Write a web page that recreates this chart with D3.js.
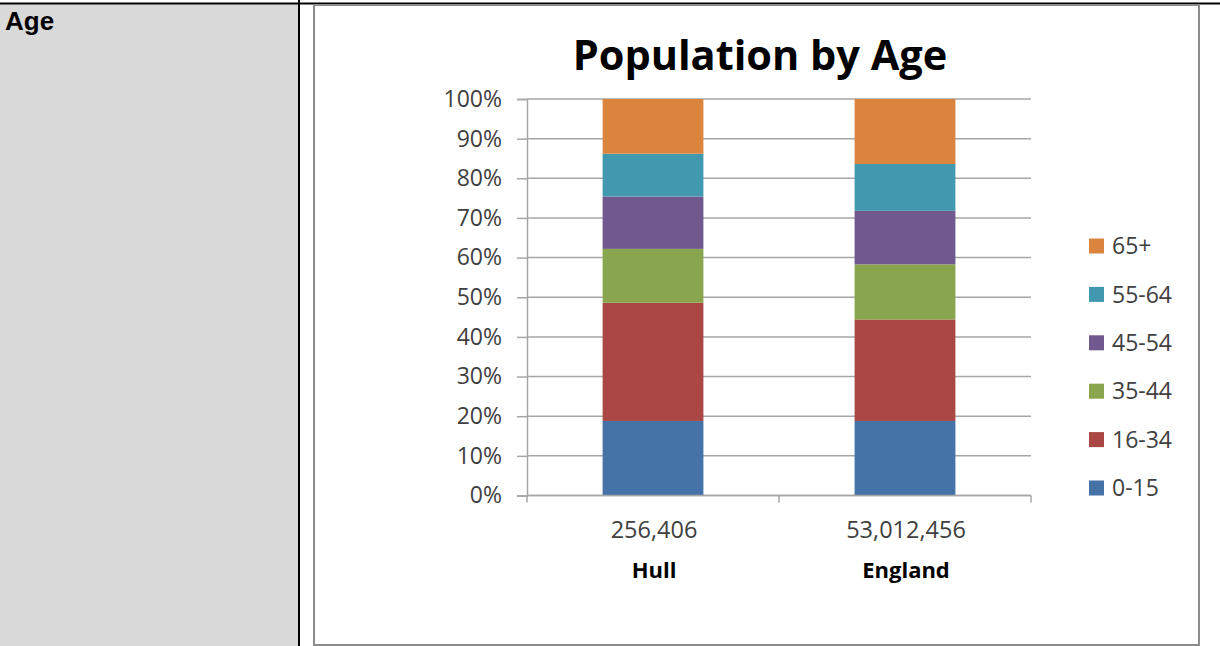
<!DOCTYPE html>
<html>
<head>
<meta charset="utf-8">
<script src="https://cdn.jsdelivr.net/npm/d3@7"></script>
<style>
  html, body { margin: 0; padding: 0; background: #fff; }
  svg { display: block; }
</style>
</head>
<body>
<svg id="chart" width="1220" height="646"></svg>
<script>
// ---- data ----
const categories = ["Hull", "England"];
const populations = ["256,406", "53,012,456"];
const ageGroups = ["0-15", "16-34", "35-44", "45-54", "55-64", "65+"];
const hullValues = [18.8, 29.8, 13.6, 13.2, 10.8, 13.8];
const englandValues = [18.8, 25.6, 13.9, 13.5, 11.8, 16.4];
const yTickValues = [0, 10, 20, 30, 40, 50, 60, 70, 80, 90, 100];
const seriesColors = ["#4572a7", "#aa4643", "#89a54e", "#71588f", "#4198af", "#db843d"];
const titleText = "Population by Age";
const sectionLabel = "Age";

const svg = d3.select("#chart");
const FONT = "'Open Sans', 'Noto Sans', sans-serif";

// ---- page table ----
svg.append("rect").attr("x", 0).attr("y", 3).attr("width", 298).attr("height", 643).attr("fill", "#d9d9d9");
svg.append("line").attr("x1", 0).attr("x2", 1220).attr("y1", 3.5).attr("y2", 3.5)
  .attr("stroke", "#000").attr("stroke-width", 2);
svg.append("line").attr("x1", 299).attr("x2", 299).attr("y1", 0).attr("y2", 646)
  .attr("stroke", "#000").attr("stroke-width", 2);
svg.append("text").attr("x", 5).attr("y", 30).text(sectionLabel)
  .attr("font-family", "'Liberation Sans', Arial, sans-serif").attr("font-weight", "bold")
  .attr("font-size", 26).attr("fill", "#000");

// chart frame
svg.append("rect").attr("x", 314).attr("y", 5).attr("width", 885).attr("height", 640)
  .attr("fill", "#fff").attr("stroke", "#8c8c8c").attr("stroke-width", 2);

// title
svg.append("text").attr("x", 760).attr("y", 70).attr("text-anchor", "middle")
  .attr("font-family", FONT).attr("font-weight", "bold").attr("font-size", 41.5)
  .attr("fill", "#000").text(titleText);

// ---- scales ----
const y = d3.scaleLinear().domain([0, 100]).range([495.5, 99]);
const x = d3.scaleBand().domain(categories).range([527, 1031])
  .paddingInner(0.6).paddingOuter(0.3);
const color = d3.scaleOrdinal().domain(ageGroups).range(seriesColors);

const rows = categories.map((c, i) => {
  const vals = i === 0 ? hullValues : englandValues;
  const r = { category: c };
  ageGroups.forEach((g, j) => r[g] = vals[j]);
  return r;
});
const stacked = d3.stack().keys(ageGroups)(rows);

// gridlines
const gridColor = "#a6a6a6";
svg.append("g").selectAll("line").data(yTickValues).join("line")
  .attr("x1", 527).attr("x2", 1031)
  .attr("y1", d => y(d)).attr("y2", d => y(d))
  .attr("stroke", gridColor).attr("stroke-width", 1.5);

// y axis
const yAxis = svg.append("g").attr("transform", "translate(527,0)")
  .call(d3.axisLeft(y).tickValues(yTickValues).tickFormat(d => d + "%").tickSize(10).tickPadding(15));
yAxis.select(".domain").attr("stroke", gridColor).attr("stroke-width", 1.5);
yAxis.selectAll(".tick line").attr("stroke", gridColor).attr("stroke-width", 1.5);
yAxis.selectAll(".tick text").attr("font-family", FONT).attr("font-size", 23)
  .attr("fill", "#404040");

// bars
svg.append("g").selectAll("g").data(stacked).join("g")
  .attr("fill", d => color(d.key))
  .selectAll("rect").data(d => d).join("rect")
  .attr("x", d => x(d.data.category))
  .attr("width", x.bandwidth())
  .attr("y", d => y(d[1]))
  .attr("height", d => y(d[0]) - y(d[1]));

// x axis line and boundary ticks
const xr = x.range();
svg.append("line").attr("x1", xr[0]).attr("x2", xr[1]).attr("y1", y(0)).attr("y2", y(0))
  .attr("stroke", gridColor).attr("stroke-width", 1.5);
const boundaries = d3.range(categories.length + 1).map(i => xr[0] + i * x.step());
svg.append("g").selectAll("line").data(boundaries).join("line")
  .attr("x1", d => d).attr("x2", d => d).attr("y1", y(0)).attr("y2", y(0) + 7)
  .attr("stroke", gridColor).attr("stroke-width", 1.5);

// category labels
const catG = svg.append("g").selectAll("g").data(categories).join("g")
  .attr("transform", d => `translate(${x(d) + x.bandwidth() / 2 + 1},0)`);
catG.append("text").attr("y", 538).attr("text-anchor", "middle")
  .attr("font-family", FONT).attr("font-size", 23.5).attr("fill", "#404040")
  .text((d, i) => populations[i]);
catG.append("text").attr("y", 578).attr("text-anchor", "middle")
  .attr("font-family", FONT).attr("font-weight", "bold").attr("font-size", 22).attr("fill", "#000")
  .text(d => d);

// legend
const legendOrder = ageGroups.slice().reverse();
const leg = svg.append("g").selectAll("g").data(legendOrder).join("g")
  .attr("transform", (d, i) => `translate(1089,${246 + i * 48.4})`);
leg.append("rect").attr("x", 0).attr("y", -7.5).attr("width", 15).attr("height", 15)
  .attr("fill", d => color(d));
leg.append("text").attr("x", 23).attr("dy", "0.36em")
  .attr("font-family", FONT).attr("font-size", 23).attr("fill", "#404040")
  .text(d => d);
</script>
</body>
</html>
